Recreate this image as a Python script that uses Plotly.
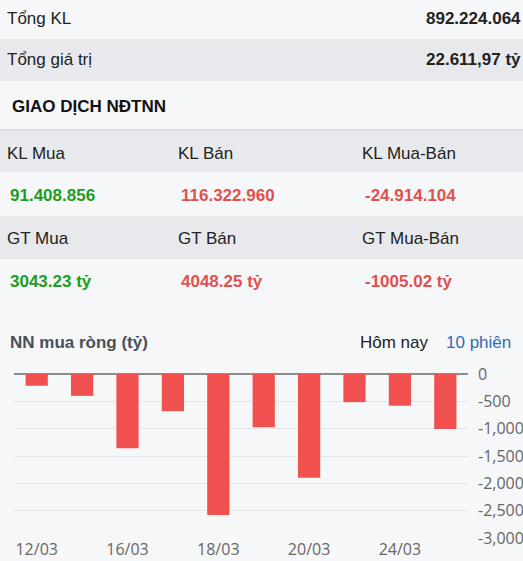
import plotly.graph_objects as go

W, H = 523, 561

# chart data
dates = ["12/03", "13/03", "16/03", "17/03", "18/03", "19/03", "20/03", "23/03", "24/03", "25/03"]
net_buy = [-215, -400, -1360, -680, -2580, -975, -1900, -515, -580, -1005.02]
shown_dates = ["12/03", "16/03", "18/03", "20/03", "24/03"]
y_ticks = [0, -500, -1000, -1500, -2000, -2500, -3000]

# summary table texts
total_labels = ["Tổng KL", "Tổng giá trị"]
total_values = ["892.224.064", "22.611,97 tỷ"]
kl_labels = ["KL Mua", "KL Bán", "KL Mua-Bán"]
kl_values = ["91.408.856", "116.322.960", "-24.914.104"]
gt_labels = ["GT Mua", "GT Bán", "GT Mua-Bán"]
gt_values = ["3043.23 tỷ", "4048.25 tỷ", "-1005.02 tỷ"]

BG = "#f6f7f9"
BAND = "#e7e9ec"
GREEN = "#1c9e1f"
RED = "#e2504c"
TXT = "#222222"
FONT = "Liberation Sans, Arial, sans-serif"


def px(x):
    return x / W


def py(y):
    return 1 - y / H


fig = go.Figure()
fig.add_trace(go.Bar(x=dates, y=net_buy, marker_color="#f0514f", marker_line_width=0,
                     hoverinfo="x+y"))

shapes = []
for y0, y1 in [(39, 81), (130, 172), (216, 259)]:
    shapes.append(dict(type="rect", xref="paper", yref="paper", x0=0, x1=1,
                       y0=py(y1), y1=py(y0), fillcolor=BAND, line_width=0, layer="below"))
shapes.append(dict(type="line", xref="paper", yref="paper", x0=0, x1=1,
                   y0=py(130), y1=py(130), line=dict(color="#d6d8dc", width=1.5), layer="below"))

ann = []


def txt(x, y, s, color=TXT, bold=False, anchor="left", size=17):
    if bold:
        s = "<b>" + s + "</b>"
    ann.append(dict(x=px(x), y=py(y), xref="paper", yref="paper", text=s, showarrow=False,
                    xanchor=anchor, yanchor="middle", font=dict(size=size, color=color, family=FONT)))


for i, (lab, val) in enumerate(zip(total_labels, total_values)):
    yy = 18 + i * 42
    txt(5, yy, lab)
    txt(523, yy, val, bold=True, anchor="right")

txt(10, 106, "GIAO DỊCH NĐTNN", color="#111111", bold=True, size=17)

col_x = [5, 176, 360]
val_colors = [GREEN, RED, RED]
for i in range(3):
    txt(col_x[i], 153, kl_labels[i])
    txt(col_x[i] + 3, 195, kl_values[i], color=val_colors[i], bold=True)
    txt(col_x[i], 238, gt_labels[i])
    txt(col_x[i] + 3, 281, gt_values[i], color=val_colors[i], bold=True)

txt(8, 342, "NN mua ròng (tỷ)", color="#4b5058", bold=True)
txt(358, 342, "Hôm nay")
txt(444, 342, "10 phiên", color="#2e6db4")

fig.update_layout(
    width=W, height=H,
    margin=dict(l=0, r=0, t=0, b=0),
    paper_bgcolor=BG, plot_bgcolor=BG,
    showlegend=False,
    bargap=0.51,
    shapes=shapes,
    annotations=ann,
    xaxis=dict(domain=[px(14), px(468)], tickvals=shown_dates, ticktext=shown_dates,
               showgrid=False, showline=False, zeroline=False, ticks="", automargin=False,
               tickfont=dict(size=16, color="#666666", family="Open Sans, sans-serif"),
               fixedrange=True),
    yaxis=dict(domain=[py(538), py(374)], range=[-3000, 0], side="right",
               tickvals=y_ticks, ticktext=[f"{v:,}" for v in y_ticks],
               gridcolor="#e3e5e8", gridwidth=1,
               zeroline=True, zerolinecolor="#8c8c8c", zerolinewidth=1.5,
               showline=False, ticks="", ticklabelstandoff=9, automargin=False,
               tickfont=dict(size=16, color="#666666", family="Open Sans, sans-serif"),
               fixedrange=True),
)

fig.write_html("out.html", config={"displayModeBar": False},
               post_script="document.body.style.margin='0';document.body.style.overflow='hidden';")
